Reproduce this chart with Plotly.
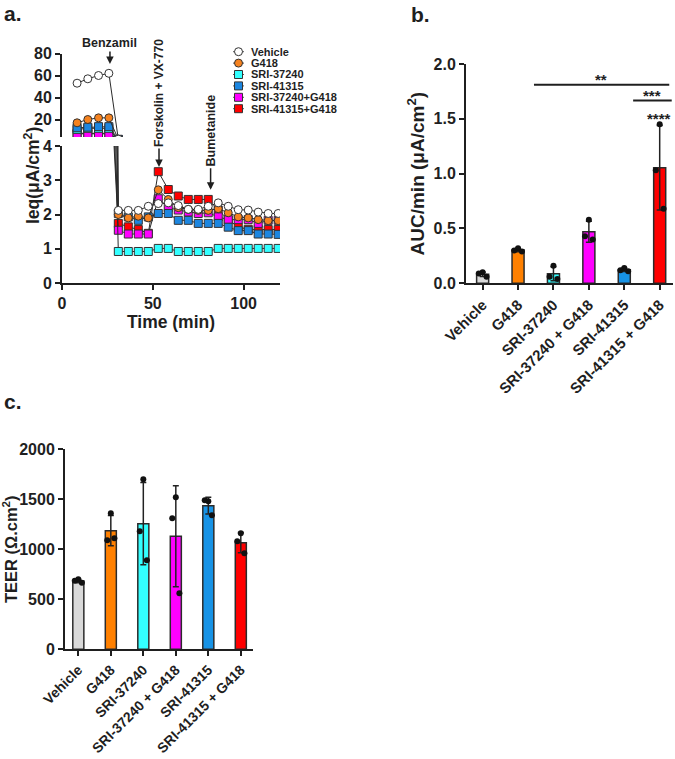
import numpy as np
import plotly.graph_objects as go

W, H = 675, 759
FONT = "Liberation Sans, Arial, Helvetica, sans-serif"
INK = "#1f1f1f"

# ---------------- data: panel a (Ieq time course) ----------------
series_names = ["Vehicle", "G418", "SRI-37240", "SRI-41315", "SRI-37240+G418", "SRI-41315+G418"]
time_min = [8.3, 14.2, 20.1, 25.8,
            31.0, 36.5, 42.0, 47.5, 53.0, 58.5, 64.0, 69.5, 75.0, 80.5,
            86.0, 91.5, 97.0, 102.5, 108.0, 113.5, 119.0]
ieq_vehicle = [53, 57, 60, 62,
               2.12, 2.12, 2.12, 2.24, 2.32, 2.34, 2.26, 2.15, 2.15, 2.24,
               2.34, 2.24, 2.14, 2.13, 2.07, 2.03, 2.03]
ieq_g418 = [17, 20, 21.5, 21.5,
            2.0, 1.9, 1.95, 1.9, 2.72, 2.44, 2.2, 2.15, 2.12, 2.12,
            2.17, 2.05, 1.93, 1.9, 1.85, 1.82, 1.82]
ieq_sri37240 = [11, 12, 12, 12,
                0.92, 0.92, 0.92, 0.92, 1.01, 1.01, 0.92, 0.92, 0.92, 0.92,
                1.01, 1.01, 1.01, 1.01, 1.01, 1.01, 1.01]
ieq_sri41315 = [12.5, 13, 13.5, 13.5,
                2.03, 1.93, 1.83, 1.93, 2.03, 2.03, 1.83, 1.83, 1.74, 1.74,
                1.74, 1.63, 1.53, 1.53, 1.43, 1.43, 1.42]
ieq_sri37240_g418 = [7, 7, 7, 7,
                     1.54, 1.43, 1.43, 1.43, 2.46, 2.2, 2.13, 2.07, 2.03, 2.05,
                     1.93, 1.85, 1.85, 1.85, 1.74, 1.83, 1.83]
ieq_sri41315_g418 = [7.5, 7.5, 7.5, 7.5,
                     1.74, 1.64, 1.56, 1.45, 3.25, 2.73, 2.54, 2.44, 2.44, 2.44,
                     2.13, 1.85, 1.63, 1.57, 1.56, 1.56, 1.56]
ieq_values = [ieq_vehicle, ieq_g418, ieq_sri37240, ieq_sri41315, ieq_sri37240_g418, ieq_sri41315_g418]
n_pre = 4  # number of readings before benzamil

# treatment time points (min)
t_benzamil = 26.4
t_forskolin = 53.4
t_bumetanide = 81.8

# ---------------- data: panels b and c ----------------
categories = ["Vehicle", "G418", "SRI-37240", "SRI-37240 + G418", "SRI-41315", "SRI-41315 + G418"]
auc_points = [[0.10, 0.09, 0.06],
              [0.32, 0.30, 0.29],
              [0.16, 0.06, 0.04],
              [0.58, 0.43, 0.40],
              [0.14, 0.12, 0.11],
              [1.45, 1.03, 0.68]]
teer_points = [[700, 685, 665],
               [1360, 1090, 1110],
               [1700, 1180, 890],
               [1520, 1310, 560],
               [1480, 1490, 1340],
               [1160, 1080, 960]]
sig_labels = ["**", "***", "****"]

# ---------------- styles ----------------
series_style = {
    "Vehicle": dict(symbol="circle", color="#FFFFFF"),
    "G418": dict(symbol="circle", color="#F5821F"),
    "SRI-37240": dict(symbol="square", color="#33FFFF"),
    "SRI-41315": dict(symbol="square", color="#1C86E0"),
    "SRI-37240+G418": dict(symbol="square", color="#FF00FF"),
    "SRI-41315+G418": dict(symbol="square", color="#FF0000"),
}
draw_order = ["SRI-41315+G418", "SRI-37240+G418", "SRI-37240", "SRI-41315", "G418", "Vehicle"]
bar_colors = ["#D9D9D9", "#FF8000", "#33FFFF", "#FF00FF", "#1793E6", "#FF0000"]
JITTER = [0.0, -0.11, 0.11]


def xd(p0, p1):
    return [p0 / W, p1 / W]


def yd(top, bottom):
    return [1 - bottom / H, 1 - top / H]


def px(x, y):
    return x / W, 1 - y / H


def ax_style(**kw):
    base = dict(showline=True, linewidth=2, linecolor=INK, ticks="outside", ticklen=5,
                tickwidth=2, tickcolor=INK, showgrid=False, zeroline=False,
                tickfont=dict(family=FONT, size=16, color=INK, weight="bold"),
                fixedrange=True)
    base.update(kw)
    return base


fig = go.Figure()
ieq = dict(zip(series_names, ieq_values))

# ---------------- panel a ----------------
for name in draw_order:
    st = series_style[name]
    # upper (broken) segment: baseline readings + the drop to the first post-benzamil reading
    # lower segment: from the last baseline reading onwards
    parts = [("x2", "y2", slice(0, n_pre + 1)), ("x", "y", slice(n_pre - 1, None))]
    for xa, ya, sl in parts:
        fig.add_trace(go.Scatter(
            x=time_min[sl], y=ieq[name][sl], xaxis=xa, yaxis=ya, mode="lines+markers",
            line=dict(color="#2a2a2a", width=1),
            marker=dict(symbol=st["symbol"], size=8, color=st["color"],
                        line=dict(color="#333333", width=1)),
            showlegend=False, cliponaxis=True, hoverinfo="skip"))

# custom legend (index based)
legend_ann = []
for i, name in enumerate(series_names):
    st = series_style[name]
    fig.add_trace(go.Scatter(x=[0, 11], y=[i, i], xaxis="x5", yaxis="y5", mode="lines",
                             line=dict(color="#555555", width=1), showlegend=False, hoverinfo="skip"))
    fig.add_trace(go.Scatter(x=[5.5], y=[i], xaxis="x5", yaxis="y5", mode="markers",
                             marker=dict(symbol=st["symbol"], size=8, color=st["color"],
                                         line=dict(color="#333333", width=1)),
                             showlegend=False, hoverinfo="skip"))
    legend_ann.append(dict(text="<b>" + name + "</b>", x=16, y=i, xref="x5", yref="y5",
                           xanchor="left", yanchor="middle", showarrow=False,
                           font=dict(family=FONT, size=11, color=INK)))

# ---------------- panels b and c ----------------
def bar_panel(points, xa, ya):
    means = [float(np.mean(p)) for p in points]
    sds = [float(np.std(p, ddof=1)) for p in points]
    fig.add_trace(go.Bar(
        x=list(range(len(categories))), y=means, xaxis=xa, yaxis=ya, width=0.34,
        marker=dict(color=bar_colors, line=dict(color="#2b2b2b", width=1.5)),
        error_y=dict(type="data", array=sds, visible=True, color="#222222", thickness=1.5, width=3),
        showlegend=False, hoverinfo="skip"))
    xs, ys = [], []
    for i, p in enumerate(points):
        for j, v in enumerate(p):
            xs.append(i + JITTER[j % len(JITTER)])
            ys.append(v)
    fig.add_trace(go.Scatter(x=xs, y=ys, xaxis=xa, yaxis=ya, mode="markers",
                             marker=dict(color="#111111", size=6),
                             showlegend=False, hoverinfo="skip", cliponaxis=False))


bar_panel(auc_points, "x3", "y3")
bar_panel(teer_points, "x4", "y4")

# ---------------- layout ----------------
cat_font_b = dict(family=FONT, size=15, color=INK, weight="bold")
cat_font_c = dict(family=FONT, size=14, color=INK, weight="bold")


def title(text, size, standoff):
    return dict(text="<b>" + text + "</b>", font=dict(family=FONT, size=size, color=INK),
                standoff=standoff)


layout = dict(
    width=W, height=H, autosize=False,
    margin=dict(l=0, r=0, t=0, b=0, pad=0, autoexpand=False),
    paper_bgcolor="white", plot_bgcolor="rgba(0,0,0,0)",
    font=dict(family=FONT, color=INK),
    bargap=0,
    xaxis=ax_style(domain=xd(62, 280), range=[0, 120], tickvals=[0, 50, 100], anchor="y",
                   title=title("Time (min)", 17.5, 2)),
    yaxis=ax_style(domain=yd(146, 283), range=[0, 4], tickvals=[0, 1, 2, 3, 4], anchor="x"),
    xaxis2=dict(domain=xd(62, 280), range=[0, 120], visible=False, anchor="y2", fixedrange=True),
    yaxis2=ax_style(domain=yd(53.5, 137.1), range=[4, 80], tickvals=[20, 40, 60, 80], anchor="x2"),
    xaxis3=ax_style(domain=xd(466, 673), range=[-0.47, 5.376], tickvals=list(range(6)),
                    ticktext=categories, tickangle=-45, anchor="y3", tickfont=cat_font_b),
    yaxis3=ax_style(domain=yd(64, 283.3), range=[0, 2], tickvals=[0, 0.5, 1.0, 1.5, 2.0],
                    tickformat=".1f", anchor="x3",
                    title=title("AUC/min (μA/cm<sup>2</sup>)", 19, 4)),
    xaxis4=ax_style(domain=xd(65, 253), range=[-0.41, 5.375], tickvals=list(range(6)),
                    ticktext=categories, tickangle=-45, anchor="y4", tickfont=cat_font_c),
    yaxis4=ax_style(domain=yd(449.3, 649.3), range=[0, 2000], tickvals=[0, 500, 1000, 1500, 2000],
                    anchor="x4", title=title("TEER (Ω.cm<sup>2</sup>)", 16.5, 2)),
    xaxis5=dict(domain=xd(233, 345), range=[0, 112], visible=False, anchor="y5", fixedrange=True),
    yaxis5=dict(domain=yd(46, 114.4), range=[5.5, -0.5], visible=False, anchor="x5", fixedrange=True),
)

ann = list(legend_ann)


def paper_text(text, x, y, size, angle=0, xanchor="center", yanchor="middle"):
    xp, yp = px(x, y)
    ann.append(dict(text=text, x=xp, y=yp, xref="paper", yref="paper", showarrow=False,
                    textangle=angle, xanchor=xanchor, yanchor=yanchor,
                    font=dict(family=FONT, size=size, color=INK)))


# panel labels
paper_text("<b>a.</b>", 2, 0, 21, xanchor="left", yanchor="top")
paper_text("<b>b.</b>", 409, 1, 21, xanchor="left", yanchor="top")
paper_text("<b>c.</b>", 2, 388, 21, xanchor="left", yanchor="top")

# y title of the broken axis (spans both segments)
paper_text("<b>Ieq(μA/cm<sup>2</sup>)</b>", 32, 176, 17.5, angle=-90)

# treatment labels with arrows (arrow tip at the reading, label above it)
def treatment(text, t, yval, xref, yref, ay, size, angle):
    ann.append(dict(text=text, x=t, y=yval, xref=xref, yref=yref, showarrow=True,
                    arrowhead=2, arrowsize=1, arrowwidth=1.5, arrowcolor=INK,
                    ax=0, ay=ay, textangle=angle, borderpad=1,
                    font=dict(family=FONT, size=size, color=INK)))


treatment("<b>Benzamil</b>", t_benzamil, 70.5, "x2", "y2", -21, 12.5, 0)
treatment("<b>Forskolin + VX-770</b>", t_forskolin, 3.39, "x", "y", -74, 12, -90)
treatment("<b>Bumetanide</b>", t_bumetanide, 2.72, "x", "y", -59, 12.5, -90)

# significance marks (panel b)
shapes = [
    dict(type="line", xref="x3", yref="y3", x0=1.45, x1=5.27, y0=1.81, y1=1.81,
         line=dict(color=INK, width=2)),
    dict(type="line", xref="x3", yref="y3", x0=4.25, x1=5.34, y0=1.666, y1=1.666,
         line=dict(color=INK, width=2)),
]
for lab, xv, yv in zip(sig_labels, [3.33, 4.77, 4.98], [1.86, 1.714, 1.50]):
    ann.append(dict(text="<b>" + lab + "</b>", x=xv, y=yv, xref="x3", yref="y3", showarrow=False,
                    font=dict(family=FONT, size=15, color=INK)))

layout["annotations"] = ann
layout["shapes"] = shapes
fig.update_layout(**layout)

fig.write_html(
    "out.html",
    config={"displayModeBar": False, "staticPlot": True},
    post_script="document.body.style.margin='0px';document.body.style.padding='0px';"
                "document.documentElement.style.overflow='hidden';",
)
